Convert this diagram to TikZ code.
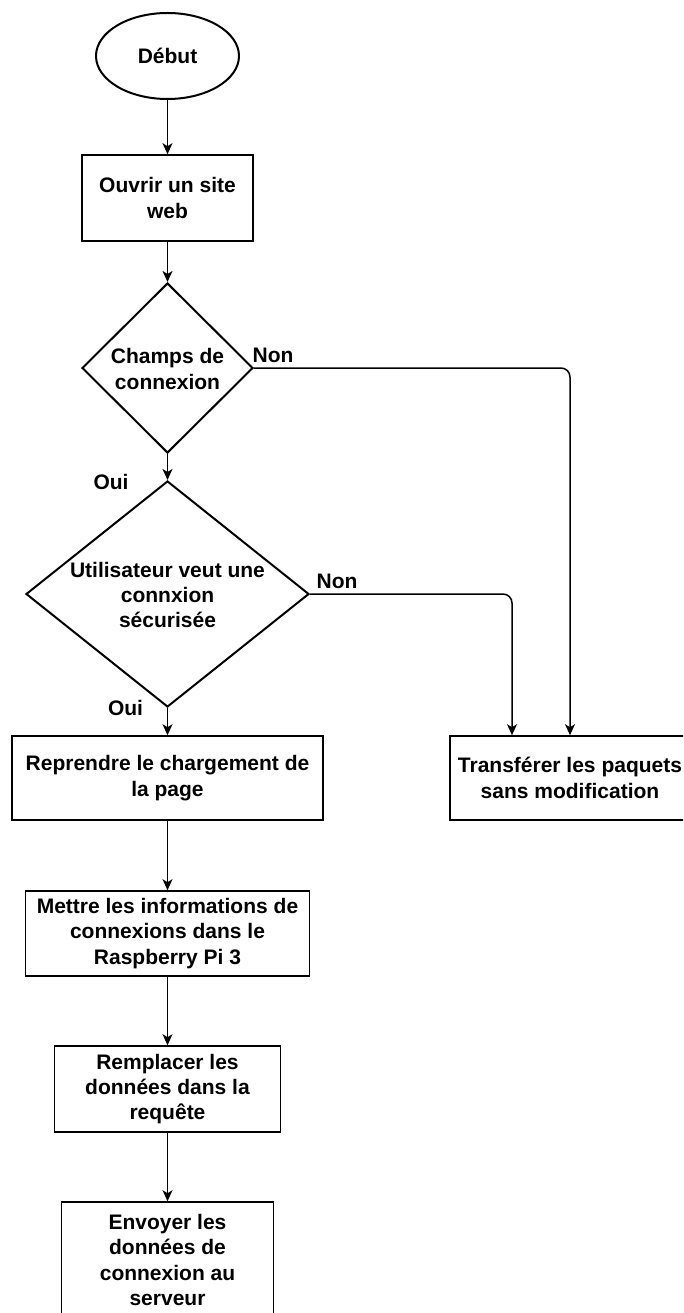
\documentclass[tikz,border=0pt]{standalone}
\usepackage{fontspec}
\setmainfont{Liberation Sans}
\usetikzlibrary{shapes.geometric,arrows.meta}

\tikzset{
  every node/.style={font=\bfseries\fontsize{21}{25.4}\selectfont, align=center, text=black},
  flowline/.style={line width=1.5pt, -{Stealth[length=11pt,width=10pt,inset=3pt]}},
  elbow/.style={flowline, rounded corners=9pt},
  stepbox/.style={draw, rectangle, line width=1.6pt, inner sep=0pt},
  startnode/.style={draw, ellipse, line width=2pt, inner sep=0pt},
  decision/.style={draw, diamond, line width=2pt, inner sep=0pt},
  branchlabel/.style={inner sep=0pt}
}

\begin{document}
\begin{tikzpicture}[x=1pt, y=-1pt]
  \useasboundingbox (0,0) rectangle (683,1313);
  \clip (0,0) rectangle (683,1313);

  % main column
  \node[startnode, minimum width=143pt, minimum height=86pt] (start) at (167.5,56) {Début};
  \node[stepbox, minimum width=171pt, minimum height=86pt] (open) at (167.5,198) {Ouvrir un site\\web};

  \node[decision, minimum width=171pt, minimum height=170pt] (d1) at (167.5,368) {};
  \node (d1t) at (167.5,369) {Champs de\\connexion};

  \node[decision, minimum width=283pt, minimum height=226pt] (d2) at (167.5,594) {};
  \node (d2t) at (167.5,595) {Utilisateur veut une\\connxion\\sécurisée};

  \node[stepbox, minimum width=311pt, minimum height=84pt] (reload) at (167.5,778) {Reprendre le chargement de\\la page};
  \node[stepbox, minimum width=240pt, minimum height=84pt] (transfer) at (570,778) {Transférer les paquets\\sans modification};

  \node[stepbox, minimum width=284pt, minimum height=85pt] (store) at (167.5,933.5) {Mettre les informations de\\connexions dans le\\Raspberry Pi 3};
  \node[stepbox, minimum width=226pt, minimum height=86pt] (replace) at (167.5,1089) {Remplacer les\\données dans la\\requête};
  \node[stepbox, minimum width=212pt, minimum height=116pt] (send) at (167.5,1260) {Envoyer les\\données de\\connexion au\\serveur};

  % branch labels
  \node[branchlabel] (non1) at (273,355) {Non};
  \node[branchlabel] (non2) at (337,581) {Non};
  \node[branchlabel] (oui1) at (111,482) {Oui};
  \node[branchlabel] (oui2) at (125.5,708) {Oui};

  % connectors
  \draw[flowline] (start) -- (open);
  \draw[flowline] (open) -- (d1);
  \draw[flowline] (d1) -- (d2);
  \draw[flowline] (d2) -- (reload);
  \draw[flowline] (reload) -- (store);
  \draw[flowline] (store) -- (replace);
  \draw[flowline] (replace) -- (send);

  \coordinate (tin) at ([xshift=-58pt]transfer.north);
  \draw[elbow] (d1.east) -| (transfer.north);
  \draw[elbow] (d2.east) -| (tin);
\end{tikzpicture}
\end{document}
